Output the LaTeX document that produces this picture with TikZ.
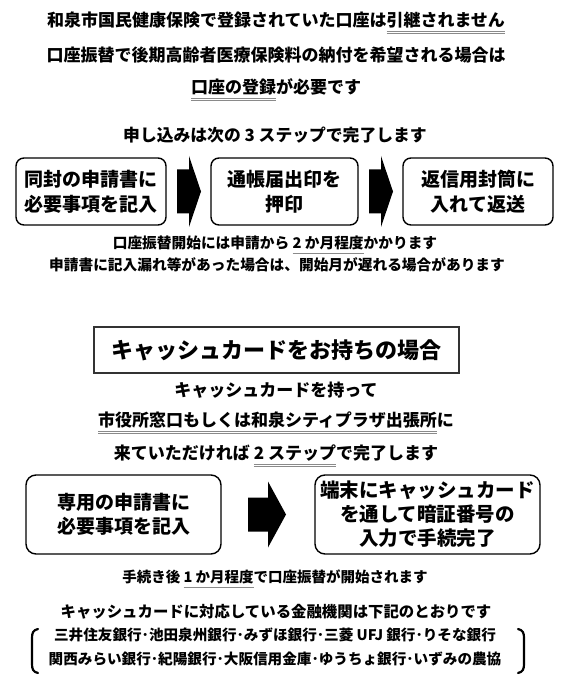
\documentclass[tikz,border=0pt]{standalone}
\usepackage{fontspec}
\setmainfont{Noto Sans CJK JP}
\usetikzlibrary{calc}
\definecolor{ulgray}{HTML}{8A8A8A}
\newsavebox\ulbox
\newcommand\dblul[1]{\sbox\ulbox{#1}\rlap{\smash{\textcolor{ulgray}{\rule[-5pt]{\wd\ulbox}{0.9pt}}}}\rlap{\smash{\textcolor{ulgray}{\rule[-7.6pt]{\wd\ulbox}{0.9pt}}}}\usebox\ulbox}
\newcommand\sngul[1]{\sbox\ulbox{#1}\rlap{\smash{\textcolor{ulgray}{\rule[-5.5pt]{\wd\ulbox}{1.4pt}}}}\usebox\ulbox}
\newcommand\fsz[2]{\bfseries\fontsize{#1}{#2}\selectfont}
\newcommand\BlockArrow[6]{\fill[blockarrow] ([shift={(#2,-#5)}]#1) -- ([shift={(#3,-#5)}]#1) -- ([shift={(#3,-#6)}]#1) -- ([shift={(#4,0)}]#1) -- ([shift={(#3,#6)}]#1) -- ([shift={(#3,#5)}]#1) -- ([shift={(#2,#5)}]#1) -- cycle;}
\begin{document}
\begin{tikzpicture}[x=1pt,y=-1pt,
  every node/.style={inner sep=0pt},
  txt/.style={align=center},
  rbox/.style={draw, line width=1.4pt, rounded corners=8pt, align=center},
  rboxb/.style={rbox, rounded corners=10pt},
  titlebox/.style={draw=black!80, line width=1.3pt},
  blockarrow/.style={fill=black},
  bracket/.style={line width=2.2pt, line cap=round}]
\useasboundingbox (0,0) rectangle (575,692);

% header
\node[txt, font=\fsz{17}{20}] (t1) at (276,20) {和泉市国民健康保険で登録されていた口座は\dblul{引継されません}};
\node[txt, font=\fsz{17}{20}] (t2) at (276,55) {口座振替で後期高齢者医療保険料の納付を希望される場合は};
\node[txt, font=\fsz{17}{20}] (t3) at (276,87) {\dblul{口座の登録}が必要です};

% three steps
\node[txt, font=\fsz{16.8}{20}] (s1) at (275,135) {申し込みは次の 3 ステップで完了します};
\node[rbox, minimum width=150pt, minimum height=67pt, font=\fsz{19}{25}] (b1) at (91,191.5) {同封の申請書に\\必要事項を記入};
\node[rbox, minimum width=147pt, minimum height=67pt, font=\fsz{19}{25}] (b2) at (284.5,191.5) {通帳届出印を\\押印};
\node[rbox, minimum width=150pt, minimum height=67pt, font=\fsz{19}{25}] (b3) at (478,191.5) {返信用封筒に\\入れて返送};
\path ($(b1.east)!0.5!(b2.west)$) coordinate (m1);
\path ($(b2.east)!0.5!(b3.west)$) coordinate (m2);
\BlockArrow{m1}{-11.5}{0.5}{12.5}{22}{35.5}
\BlockArrow{m2}{-11.5}{0.5}{12.5}{22}{35.5}
\node[txt, font=\fsz{14.7}{18}] (n1) at (275,243) {口座振替開始には申請から \sngul{2 か月程度}かかります};
\node[txt, font=\fsz{14.7}{18}] (n2) at (277,265) {申請書に記入漏れ等があった場合は、開始月が遅れる場合があります};

% cash card
\node[titlebox, minimum width=365pt, minimum height=46pt, font=\fsz{22}{26}] (c0) at (276.5,350) {キャッシュカードをお持ちの場合};
\node[txt, font=\fsz{17}{20}] (c1) at (276,390) {キャッシュカードを持って};
\node[txt, font=\fsz{17}{20}] (c2) at (276,420) {\dblul{市役所窓口もしくは和泉シティプラザ出張所}に};
\node[txt, font=\fsz{17}{20}] (c3) at (276,453) {来ていただければ \dblul{2 ステップ}で完了します};

\node[rboxb, minimum width=195pt, minimum height=79pt, font=\fsz{19}{24}] (ba) at (123.5,514.5) {専用の申請書に\\必要事項を記入};
\node[rboxb, minimum width=225pt, minimum height=79pt, font=\fsz{19.5}{24}] (bb) at (427.5,514.5) {端末にキャッシュカード\\を通して暗証番号の\\入力で手続完了};
\path ($(ba.east)!0.5!(bb.west)$) coordinate (m3);
\BlockArrow{m3}{-20}{0}{18}{17}{33}

\node[txt, font=\fsz{14.5}{18}] (d1) at (275,577) {手続き後 \sngul{1 か月程度}で口座振替が開始されます};
\node[txt, font=\fsz{15.4}{18}] (d2) at (276,612) {キャッシュカードに対応している金融機関は下記のとおりです};
\node[txt, font=\fsz{14.6}{18}] (k1) at (275,635) {三井住友銀行･池田泉州銀行･みずほ銀行･三菱 UFJ 銀行･りそな銀行};
\node[txt, font=\fsz{14.6}{18}] (k2) at (275,659) {関西みらい銀行･紀陽銀行･大阪信用金庫･ゆうちょ銀行･いずみの農協};

\draw[bracket] (38,629) .. controls (33,630) and (32,633) .. (32,638) -- (32,664) .. controls (32,669) and (33,672) .. (38,673);
\draw[bracket] (518,629) .. controls (523,630) and (524,633) .. (524,638) -- (524,664) .. controls (524,669) and (523,672) .. (518,673);
\end{tikzpicture}
\end{document}
